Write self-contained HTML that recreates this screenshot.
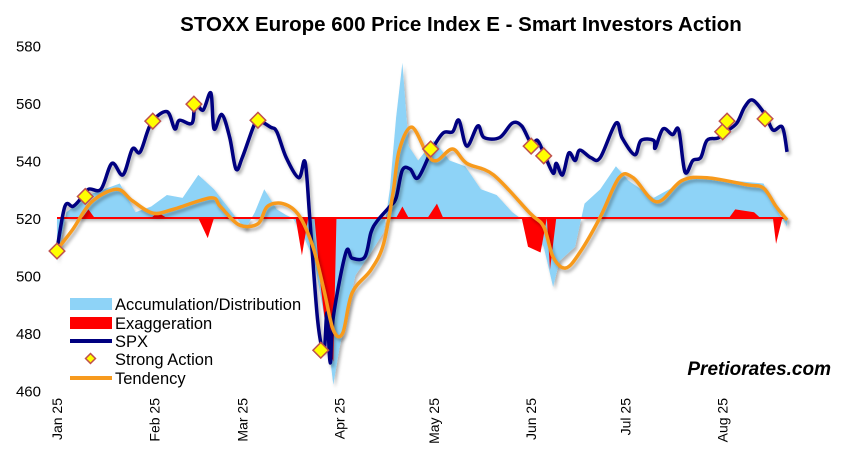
<!DOCTYPE html>
<html><head><meta charset="utf-8"><style>
html,body{margin:0;padding:0;background:#fff;}
svg{display:block;font-family:"Liberation Sans",Arial,sans-serif;}
</style></head><body>
<svg id="chart" width="852" height="460" viewBox="0 0 852 460">
<defs>
<filter id="sh" x="-10%" y="-10%" width="120%" height="130%"><feDropShadow dx="2" dy="3" stdDeviation="1.5" flood-color="#000" flood-opacity="0.3"/></filter>
</defs>
<text x="461" y="31" text-anchor="middle" font-size="20.5" font-weight="bold" fill="#000">STOXX Europe 600 Price Index E - Smart Investors Action</text>
<g id="yaxis"></g>
<g id="xaxis"></g>
<g id="plot"></g>
<g font-size="16.5" fill="#000">
<rect x="70" y="298" width="42" height="12" fill="#8ed3f7"/>
<text x="115" y="310">Accumulation/Distribution</text>
<rect x="70" y="317" width="42" height="12" fill="#ff0000"/>
<text x="115" y="329">Exaggeration</text>
<line x1="70" y1="341" x2="112" y2="341" stroke="#000080" stroke-width="4"/>
<text x="115" y="347">SPX</text>
<rect x="87" y="355" width="7" height="7" fill="#ffff00" stroke="#c0504d" stroke-width="1.5" transform="rotate(45 90.5 358.5)"/>
<text x="115" y="365">Strong Action</text>
<line x1="70" y1="378" x2="112" y2="378" stroke="#f79a1e" stroke-width="4"/>
<text x="115" y="384">Tendency</text>
</g>
<text x="831" y="375" text-anchor="end" font-size="19" font-weight="bold" font-style="italic" fill="#000">Pretiorates.com</text>
</svg>
<script>
const yTicks=[460,480,500,520,540,560,580];
const monthLabels=["Jan 25","Feb 25","Mar 25","Apr 25","May 25","Jun 25","Jul 25","Aug 25"];
const monthDays=[0,31,59,90,120,151,181,212];
const spxDays=[0,2.5,5,7,10,14,17.5,21,24,26.5,30,35,37.5,39,43,44,46.5,49,50,52.5,55,57,59,62.5,64,68,70,73,77,79,80.5,83,85,86,87,88,92,94,98,100,102,106,108,110,112.5,115,119.5,123,126,128,130.5,134,136,141,145,148,151,153,155,158,159,161,163,165,166.5,170,173,178,180,184,186,190,190.5,193,196,198,200,202.5,205,207,210.5,213,216.5,219,221.6,225.5,228,231,232.5];
const spxValues=[509,524,524,526,530,530,539,535,544,543,553,557,551,554,553,560,557.5,563.5,551,556,548,537,541,551.6,554,551.6,550,541,534,539.5,520,484.5,474,487,469.6,485.6,508,506,506.4,515,519,524,527,536.7,537,534,544,549.6,550,554,545,552,548,548,553,552,546,547,542.6,535.6,539,535,542.6,540,543.6,541,541,553,547.8,542,547,547,544.3,551,549,550.6,536,540,541,547,547.8,550,553,558.6,561,556,550.6,551.6,543];
const tendDays=[0,5,11,19,24,30.5,37,49,52,58,64,67,72,77,81.5,85,88,91,94,100,104,107,109,113,118,121,126,130.5,139,150.6,155,158,162,166.5,173,179,183.5,191,199,207,220,225,229,232.5];
const tendValues=[509,516,525.6,530,526,521.7,523,527,524,517.6,518,524,525,521,510,495,481,480,494,502,511,528.7,543.6,551.6,542,540,544,539,535,521.7,517,506.4,502.6,508,520.3,534,534,525.6,533,534,531.5,530.4,524,519.3];
const accDays=[0,3,10,20,25,30,35,40,45,50,55,60,63,66,70,73,75,78,82,86,88,90,95,100,104,106,108,110,112,115,120,125,130,135,140,145,150,155,158,160,165,168,173,178,182,186,190,195,200,205,215,225,228,232.5];
const accValues=[505,522,528,532,522,524,528,527,535,530,523,516,522,530,523,521,520,515,505,480,462,475,500,508,515,530,555,574,545,540,547,540,538,530,528,522,518,510,496,505,510,525,530,538,533,530,527,530,533,534,533,532,525,517];
const exDays=[0,8,10,12,30,32,35,45,48,50,76,78,80,82,84,86,88,89,108,110,112,118,121,123,148,150,154,156,157,159,214,216,222,224,228,229,231,232.5];
const exValues=[520,520,523,520,520,522,520,520,513,520,520,507,520,520,496,478,470,520,520,524,520,520,525,520,520,510,508,520,502,520,520,523,522,520,520,511,520,520];
const saDays=[0,9,30.5,43.6,64,84,119,151,155,212,213.4,225.5];
const saValues=[508.5,527.5,553.7,559.6,554,474,544,545,541.6,550,553.7,554.5];

const X0=57, PXD=3.14, Y520=218, PXV=2.875, BASE=520;
const xs=d=>X0+d*PXD;
const ys=v=>Y520-(v-520)*PXV;
const NS="http://www.w3.org/2000/svg";
function mk(tag,attrs,parent){const e=document.createElementNS(NS,tag);for(const k in attrs)e.setAttribute(k,attrs[k]);parent.appendChild(e);return e;}
const yax=document.getElementById('yaxis'), xax=document.getElementById('xaxis'), plot=document.getElementById('plot');

yTicks.forEach(t=>{
  const tx=mk('text',{x:41,y:ys(t)+6,'text-anchor':'end','font-size':15,fill:'#000'},yax);
  tx.textContent=t;
  
  
});
monthLabels.forEach((m,i)=>{
  const x=xs(monthDays[i]);
  const tx=mk('text',{x:0,y:0,'text-anchor':'end','font-size':14,fill:'#000',transform:`translate(${x+5},398) rotate(-90)`},xax);
  tx.textContent=m;
  
  
});

function areaPath(days,vals){
  let d=`M${xs(days[0])},${ys(BASE)}`;
  days.forEach((dd,i)=>{d+=` L${xs(dd)},${ys(vals[i])}`;});
  d+=` L${xs(days[days.length-1])},${ys(BASE)} Z`;return d;
}
function linePath(days,vals){return days.map((dd,i)=>(i?'L':'M')+xs(dd)+','+ys(vals[i])).join(' ');}
function smoothPath(days,vals){
  const p=days.map((dd,i)=>[xs(dd),ys(vals[i])]);
  let d=`M${p[0][0]},${p[0][1]}`;
  for(let i=0;i<p.length-1;i++){
    const p0=p[i-1]||p[i],p1=p[i],p2=p[i+1],p3=p[i+2]||p2;
    const c1=[p1[0]+(p2[0]-p0[0])/6,p1[1]+(p2[1]-p0[1])/6];
    const c2=[p2[0]-(p3[0]-p1[0])/6,p2[1]-(p3[1]-p1[1])/6];
    d+=` C${c1[0]},${c1[1]} ${c2[0]},${c2[1]} ${p2[0]},${p2[1]}`;
  }
  return d;
}

const acc=mk('path',{d:areaPath(accDays,accValues),fill:'#8ed3f7',filter:'url(#sh)'},plot);


const ex=mk('path',{d:areaPath(exDays,exValues),fill:'#ff0000'},plot);


const zl=mk('line',{x1:xs(0),x2:xs(232.5),y1:ys(BASE),y2:ys(BASE),stroke:'#ff0000','stroke-width':2},plot);


const spx=mk('path',{d:smoothPath(spxDays,spxValues),fill:'none',stroke:'#000080','stroke-width':3.5,'stroke-linejoin':'round',filter:'url(#sh)'},plot);


const tend=mk('path',{d:smoothPath(tendDays,tendValues),fill:'none',stroke:'#f79a1e','stroke-width':3.5,'stroke-linejoin':'round',filter:'url(#sh)'},plot);


saDays.forEach((dd,i)=>{
  const x=xs(dd),y=ys(saValues[i]);
  const r=mk('rect',{x:x-5.5,y:y-5.5,width:11,height:11,fill:'#ffff00',stroke:'#c0504d','stroke-width':1.5,transform:`rotate(45 ${x} ${y})`},plot);
  
  
});
</script>
</body></html>
